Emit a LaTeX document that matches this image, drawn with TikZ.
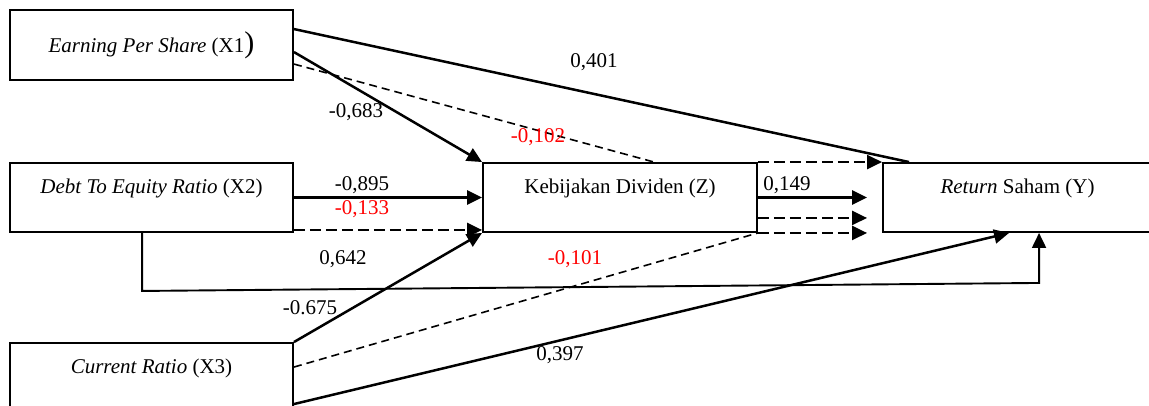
\documentclass[tikz,border=0pt]{standalone}
\usepackage{fontspec}
\setmainfont{Liberation Serif}
\usetikzlibrary{arrows.meta,calc}
\begin{document}
\begin{tikzpicture}[x=1pt,y=-1pt,
  box/.style={draw,line width=1.9pt,inner sep=0pt,font=\fontsize{21}{24}\selectfont},
  upbox/.style={box,text height=14pt,text depth=23pt},
  lab/.style={font=\fontsize{21}{24}\selectfont,inner sep=0pt},
  redlab/.style={lab,text=red},
  sol/.style={line width=2.5pt},
  solarr/.style={sol,-{Triangle[length=15pt,width=14pt]}},
  thkdash/.style={line width=2.3pt,dash pattern=on 11pt off 5pt},
  thkdasharr/.style={thkdash,-{Triangle[length=15pt,width=14pt]}},
  thndash/.style={line width=1.6pt,dash pattern=on 8pt off 5pt},
  elbow/.style={line width=1.9pt,-{Triangle[length=15pt,width=14pt]}}]
\useasboundingbox (0,0) rectangle (1149,405);
\clip (0,0) rectangle (1149,405);
% boxes
\node[box,minimum width=283pt,minimum height=70pt] (x1) at (151.5,45)
  {\textit{Earning Per Share} (X1{\fontsize{30}{30}\selectfont)}};
\node[upbox,minimum width=283pt,minimum height=69pt] (x2) at (151.5,197.5)
  {\textit{Debt To Equity Ratio} (X2)};
\node[upbox,minimum width=283pt,minimum height=70pt] (x3) at (151.5,378)
  {\textit{Current Ratio} (X3)};
\node[upbox,minimum width=274pt,minimum height=69pt] (z) at (620,197.5)
  {Kebijakan Dividen (Z)};
\node[upbox,minimum width=269pt,minimum height=69pt] (y) at (1017.5,197.5)
  {\textit{Return} Saham (Y)};
% X1 connectors
\draw[sol] ([yshift=-20pt]x1.north east) -- ([xshift=27pt]y.north west);
\draw[solarr] ([yshift=-43pt]x1.north east) -- (z.north west);
\draw[thndash] ([yshift=-55pt]x1.north east) -- ([xshift=172pt]z.north west);
% X2 connectors
\draw[solarr] (x2.east) -- (z.west);
\draw[thkdasharr] ([yshift=3pt]x2.south east) -- ([yshift=3pt]z.south west);
\coordinate (e1) at ($(x2.south west)+(133,58)$);
\coordinate (e2) at ($(y.south west)+(157,50)$);
\draw[elbow] ([xshift=133pt]x2.south west) -- (e1) -- (e2) -- ([xshift=157pt]y.south west);
% X3 connectors
\draw[solarr] (x3.north east) -- (z.south west);
\draw[thndash] ([yshift=-25pt]x3.north east) -- (z.south east);
\draw[solarr] ([yshift=-62pt]x3.north east) -- ([xshift=127pt]y.south west);
% Z to Y
\draw[thkdasharr] (z.north east) -- (y.north west);
\draw[solarr] (z.east) -- ([xshift=-15pt]y.west);
\draw[thkdasharr] ([yshift=15pt]z.south east) -- ([xshift=-15pt,yshift=15pt]y.south west);
\draw[thkdasharr] (z.south east) -- ([xshift=-15pt]y.south west);
% labels
\node[lab] (l401) at (594,62) {0,401};
\node[lab] (l683) at (356,112) {-0,683};
\node[redlab] (l102) at (538,137) {-0,102};
\node[lab] (l895) at (362,185) {-0,895};
\node[redlab] (l133) at (362,209) {-0,133};
\node[lab] (l642) at (343,259) {0,642};
\node[redlab] (l101) at (575,259) {-0,101};
\node[lab] (l675) at (310,308) {-0.675};
\node[lab] (l397) at (560,355) {0,397};
\node[lab] (l149) at (787,185) {0,149};
\end{tikzpicture}
\end{document}
